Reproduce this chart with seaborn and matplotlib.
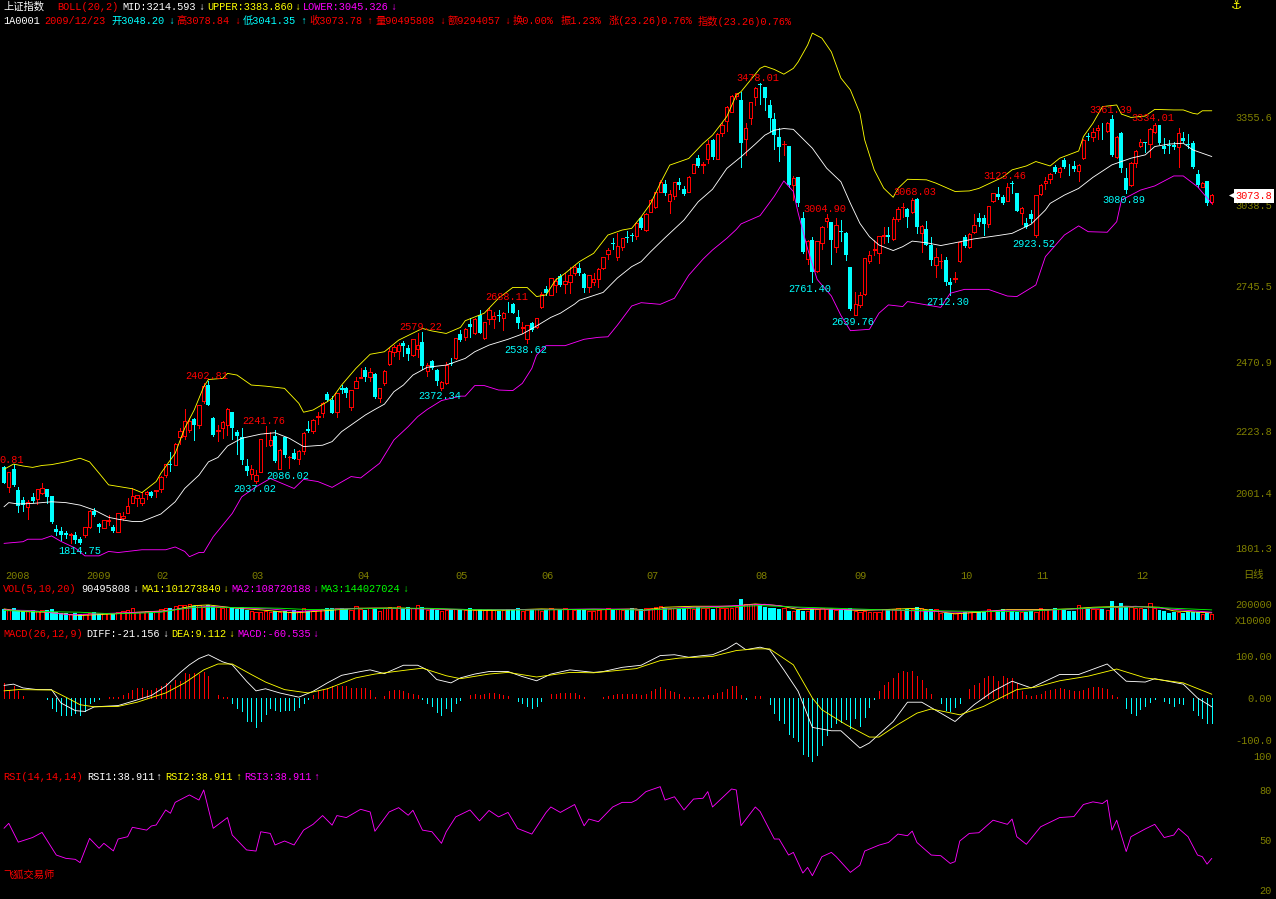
import matplotlib
matplotlib.use("Agg")
import matplotlib.pyplot as plt
import numpy as np
import pandas as pd
import seaborn as sns

open_px = [
    2094,2020,2085,2010,1974,1948,1984,1979,1998,2013,
    1989,1870,1861,1854,1848,1848,1835,1847,1878,1934,
    1888,1874,1898,1878,1860,1910,1928,1965,1980,1962,
    1996,2002,2008,2013,2065,2104,2100,2200,2205,2227,
    2265,2245,2332,2389,2269,2224,2233,2245,2293,2221,
    2200,2097,2068,2044,2076,2215,2172,2205,2088,2200,
    2128,2145,2121,2152,2229,2222,2272,2287,2355,2335,
    2293,2377,2377,2311,2380,2416,2443,2417,2430,2343,
    2395,2464,2509,2513,2539,2521,2497,2519,2545,2441,
    2477,2443,2380,2395,2467,2485,2573,2561,2609,2575,
    2642,2557,2627,2628,2642,2632,2675,2680,2633,2594,
    2554,2614,2597,2669,2734,2714,2750,2782,2752,2762,
    2792,2810,2788,2741,2762,2771,2812,2860,2900,2849,
    2885,2924,2930,2928,2990,2948,3014,3030,3086,3114,
    3054,3071,3120,3096,3086,3155,3209,3182,3203,3272,
    3205,3297,3342,3375,3431,3417,3276,3351,3429,3474,
    3462,3399,3348,3282,3258,3251,3110,3138,2990,2843,
    2912,2800,2902,2980,2976,2888,2946,2936,2816,2642,
    2678,2717,2835,2876,2864,2926,2930,2916,2987,3030,
    3024,3014,3060,2936,2950,2894,2823,2835,2840,2762,
    2771,2836,2924,2886,2942,2993,2990,2969,3054,3077,
    3068,3054,3116,3082,3011,2975,3006,2930,3078,3116,
    3131,3174,3158,3201,3177,3179,3162,3207,3287,3282,
    3309,3306,3306,3347,3213,3299,3134,3110,3189,3251,
    3265,3257,3302,3327,3251,3255,3255,3246,3281,3258,
    3263,3149,3104,3125,3048]
close_px = [
    2037,2075,2028,1953,1956,1968,1972,2013,2016,1984,
    1894,1860,1848,1848,1852,1830,1820,1876,1934,1920,
    1876,1902,1904,1862,1926,1918,1952,1989,1992,1983,
    2004,1989,2010,2058,2104,2099,2178,2223,2260,2260,
    2245,2317,2385,2317,2209,2227,2257,2301,2233,2205,
    2118,2080,2088,2064,2194,2217,2191,2116,2154,2135,
    2130,2124,2152,2217,2222,2263,2277,2323,2335,2289,
    2359,2371,2359,2371,2404,2418,2419,2435,2345,2377,
    2441,2512,2525,2533,2530,2500,2554,2533,2458,2461,
    2449,2405,2400,2461,2465,2557,2551,2590,2597,2627,
    2578,2615,2660,2638,2639,2648,2673,2650,2612,2597,
    2606,2588,2630,2717,2720,2774,2764,2750,2764,2786,
    2816,2792,2740,2786,2770,2806,2849,2876,2896,2890,
    2918,2920,2928,2972,2954,3006,3056,3084,3122,3083,
    3078,3120,3110,3078,3140,3185,3179,3186,3260,3212,
    3294,3327,3393,3431,3441,3263,3317,3408,3459,3470,
    3423,3353,3291,3248,3260,3110,3134,3044,2869,2908,
    2798,2908,2958,2990,2912,2966,2942,2858,2663,2681,
    2714,2846,2858,2878,2926,2929,2922,2987,3024,3032,
    2996,3056,2960,2963,2895,2840,2850,2838,2762,2750,
    2774,2906,2892,2934,2966,2976,2970,3035,3080,3066,
    3044,3104,3114,3018,3028,2958,2987,3073,3110,3126,
    3150,3158,3170,3174,3174,3167,3183,3273,3282,3303,
    3315,3304,3333,3219,3285,3171,3092,3191,3233,3264,
    3263,3314,3327,3261,3239,3252,3246,3297,3270,3256,
    3174,3110,3119,3044,3074]
high_px = [
    2097,2075,2104,2021,1986,1974,2001,2013,2037,2015,
    1989,1884,1878,1862,1854,1858,1842,1878,1938,1945,
    1890,1904,1920,1885,1926,1932,1980,2016,1992,2003,
    2007,2007,2010,2061,2104,2147,2181,2233,2301,2269,
    2269,2317,2395,2403,2275,2245,2259,2307,2293,2227,
    2233,2121,2100,2082,2194,2242,2221,2227,2157,2203,
    2133,2160,2154,2221,2259,2265,2293,2328,2365,2349,
    2359,2389,2383,2371,2419,2449,2453,2449,2431,2377,
    2443,2521,2533,2539,2549,2533,2554,2575,2579,2470,
    2479,2446,2405,2473,2485,2560,2587,2596,2630,2630,
    2660,2615,2666,2654,2660,2654,2687,2684,2660,2618,
    2606,2618,2630,2726,2746,2774,2774,2789,2792,2816,
    2822,2828,2792,2786,2792,2810,2852,2884,2920,2936,
    2918,2946,2936,2978,2996,3008,3060,3086,3128,3128,
    3092,3120,3134,3108,3143,3185,3218,3194,3272,3278,
    3297,3333,3395,3435,3443,3447,3333,3411,3465,3478,
    3465,3417,3369,3315,3269,3251,3144,3140,3014,2912,
    2924,2908,2964,3005,2976,2990,2984,2942,2816,2726,
    2726,2848,2872,2912,2926,2960,2958,2996,3032,3047,
    3026,3062,3062,2966,2982,2924,2882,2860,2852,2774,
    2798,2906,2930,2936,3006,3008,3002,3035,3083,3102,
    3074,3119,3123,3082,3030,2990,3020,3073,3113,3140,
    3152,3183,3174,3207,3186,3198,3186,3275,3299,3315,
    3327,3333,3339,3361,3287,3303,3171,3193,3237,3275,
    3267,3315,3334,3327,3279,3273,3267,3315,3303,3294,
    3270,3164,3122,3125,3079]
low_px = [
    2034,2003,2025,1932,1936,1907,1968,1960,1996,1965,
    1890,1848,1830,1837,1820,1820,1815,1842,1872,1918,
    1859,1872,1884,1859,1859,1902,1926,1962,1952,1955,
    1977,1986,1984,2004,2058,2080,2099,2178,2193,2221,
    2191,2233,2323,2317,2205,2188,2197,2209,2193,2140,
    2106,2064,2049,2037,2076,2169,2169,2112,2086,2128,
    2090,2121,2104,2142,2221,2217,2248,2272,2332,2287,
    2272,2359,2347,2299,2377,2413,2404,2405,2344,2329,
    2389,2461,2494,2483,2494,2479,2494,2491,2447,2422,
    2446,2389,2372,2393,2461,2483,2549,2551,2561,2573,
    2575,2555,2609,2594,2620,2588,2654,2648,2594,2575,
    2539,2584,2593,2667,2714,2714,2726,2746,2720,2720,
    2786,2786,2723,2726,2750,2744,2807,2843,2878,2840,
    2876,2906,2908,2916,2950,2946,3012,3027,3084,3074,
    3010,3059,3096,3074,3084,3152,3174,3155,3191,3205,
    3204,3288,3306,3372,3419,3174,3218,3330,3399,3402,
    3381,3305,3239,3198,3218,3104,3056,3036,2866,2825,
    2761,2798,2879,2960,2824,2870,2910,2840,2660,2640,
    2672,2714,2828,2858,2828,2900,2906,2912,2982,2994,
    2958,3011,2936,2870,2893,2822,2780,2810,2750,2712,
    2762,2834,2888,2883,2938,2964,2930,2960,3050,3060,
    3042,3052,3083,3017,2970,2954,2978,2924,3074,3095,
    3116,3155,3138,3170,3146,3162,3126,3203,3273,3270,
    3275,3275,3303,3215,3209,3159,3081,3108,3174,3246,
    3229,3213,3297,3258,3225,3225,3241,3177,3267,3243,
    3171,3104,3102,3038,3041]

# volume in millions of shares
volume = [
    165,150,170,150,125,130,140,125,150,140,
    160,110,105,100,90,95,85,90,100,110,
    90,95,100,85,110,125,150,170,110,120,
    130,110,130,165,170,180,210,225,215,235,
    205,215,190,225,200,185,175,195,180,165,
    190,150,125,110,120,125,115,130,110,125,
    120,140,130,170,135,130,150,160,180,170,
    175,170,160,150,210,160,150,175,165,125,
    170,195,180,200,165,190,170,220,195,150,
    155,150,130,145,140,160,150,145,170,150,
    160,150,165,145,135,150,160,165,170,130,
    150,165,155,130,140,170,165,155,170,165,
    145,160,150,130,125,150,165,170,155,165,
    150,145,170,150,165,175,170,185,210,170,
    160,175,165,170,180,165,185,170,175,165,
    190,175,180,170,185,310,240,230,240,225,
    185,170,175,165,170,135,130,140,135,125,
    160,165,170,155,160,150,165,160,170,125,
    120,125,115,120,120,165,155,160,170,150,
    165,155,195,170,150,165,160,95,100,95,
    95,100,120,115,125,120,115,160,125,150,
    160,135,125,120,115,120,125,120,175,150,
    155,175,160,145,135,130,220,170,160,155,
    165,160,150,285,185,250,190,185,180,175,
    165,250,175,150,135,95,110,115,105,110,
    110,115,90,100,90]

macd_bar = [
    36,20,29,16,4,-1,-1,1,-1,-2,
    -24,-30,-40,-41,-41,-36,-41,-32,-12,-6,
    -2,1,2,2,2,8,12,20,24,24,
    20,20,24,28,36,32,44,40,60,56,
    60,56,62,52,1,8,2,2,-12,-24,
    -30,-55,-55,-68,-54,-38,-24,-28,-30,-28,
    -28,-28,-22,-12,-2,8,16,20,24,28,
    28,28,28,24,25,24,24,20,2,-1,
    4,16,20,20,17,12,10,8,-2,-12,
    -20,-33,-41,-24,-32,-12,-4,0,6,10,
    8,10,12,12,10,6,4,0,-6,-12,
    -20,-24,-20,-8,0,10,10,11,11,13,
    13,8,2,0,-1,-1,3,4,8,10,
    10,10,10,10,
    8,10,16,22,27,22,17,14,10,2,
    2,3,3,2,8,6,12,14,22,28,
    29,6,-2,-1,4,4,1,-14,-36,-52,
    -60,-86,-93,-103,-133,-139,-151,-135,-113,-87,
    -70,-60,-56,-49,-71,-48,-67,-46,-22,-2,
    16,30,38,48,60,65,62,65,52,44,
    25,10,-1,-12,-28,-32,-22,-12,-1,22,
    30,36,48,52,53,40,52,48,48,36,
    16,8,4,6,10,16,20,22,24,22,
    20,16,16,20,25,27,27,24,22,6,
    2,-1,-24,-36,-40,-26,-18,-10,-3,-1,
    -8,-12,-18,-12,-14,-1,-28,-40,-48,-60,
    -60]

# lines read at their turning points as (day, value)
boll_upper = [
    (0,2085),(2,2104),(4,2097),(6,2092),(8,2099),(10,2102),(13,2112),(16,2125),(18,2112),(20,2071),
    (22,2029),(27,2015),(29,2001),(32,2041),(33,2071),(36,2143),(38,2233),(40,2299),(42,2383),(43,2409),
    (46,2413),(47,2431),(49,2425),(52,2389),(55,2385),(59,2377),(60,2359),(62,2323),(63,2291),(65,2299),
    (68,2329),(69,2341),(71,2389),(74,2449),(77,2500),(80,2509),(83,2551),(88,2593),(90,2584),(93,2575),
    (96,2597),(97,2621),(101,2648),(104,2702),(107,2741),(110,2741),(112,2708),(114,2714),(116,2768),(118,2792),
    (121,2834),(124,2864),(127,2930),(130,2948),(132,2954),(134,2996),(136,3044),(138,3116),(140,3182),(144,3206),
    (147,3260),(149,3290),(152,3357),(154,3435),(155,3447),(157,3489),(159,3531),(160,3539),(162,3527),(164,3510),
    (166,3531),(167,3554),(169,3615),(170,3658),(172,3640),(174,3590),(176,3496),(178,3453),(180,3369),(181,3273),
    (183,3165),(185,3099),(187,3066),(188,3098),(190,3131),(194,3129),(196,3117),(200,3087),(203,3089),(205,3098),
    (208,3122),(210,3138),(212,3165),(215,3179),(217,3195),(220,3179),(222,3207),(226,3233),(227,3285),(229,3333),
    (231,3393),(234,3399),(235,3366),(237,3354),(240,3359),(242,3383),(246,3381),(248,3381),(250,3369),(251,3366),
    (252,3378),(254,3378)]
boll_mid = [
    (0,1950),(1,1965),(3,1960),(6,1962),(10,1968),(13,1965),(16,1956),(19,1938),(22,1912),(24,1905),
    (27,1897),(29,1897),(33,1924),(36,1968),(38,2016),(41,2064),(43,2112),(45,2128),(47,2169),(50,2197),
    (54,2212),(57,2217),(60,2197),(63,2167),(67,2172),(69,2185),(71,2221),(73,2245),(76,2281),(78,2301),
    (80,2320),(82,2365),(84,2389),(86,2425),(89,2453),(93,2461),(97,2485),(99,2509),(102,2533),(106,2554),
    (109,2573),(112,2602),(115,2633),(117,2648),(120,2681),(121,2695),(126,2723),(129,2775),(132,2816),(134,2834),
    (136,2870),(139,2920),(143,2984),(146,3050),(149,3095),(152,3170),(155,3212),(158,3258),(160,3290),(162,3308),
    (164,3314),(166,3311),(170,3243),(173,3171),(176,3122),(178,3044),(180,2972),(182,2924),(184,2894),(187,2874),
    (189,2888),(191,2908),(194,2902),(197,2892),(200,2902),(204,2916),(209,2928),(212,2936),(216,2969),(219,3020),
    (220,3044),(223,3074),(226,3098),(229,3138),(233,3183),(237,3207),(240,3219),(242,3249),(245,3258),(248,3261),
    (250,3237),(254,3213)]
boll_lower = [
    (0,1818),(4,1824),(5,1833),(8,1833),(10,1845),(12,1825),(15,1801),(17,1773),(20,1773),(22,1789),
    (24,1785),(29,1795),(34,1795),(36,1805),(38,1789),(39,1770),(41,1785),(42,1785),(44,1842),(48,1926),
    (50,1986),(53,2022),(56,2052),(61,2016),(63,2049),(66,2041),(69,2020),(73,2059),(75,2054),(79,2107),
    (82,2191),(85,2239),(87,2275),(89,2301),(92,2333),(96,2349),(97,2349),(99,2387),(101,2387),(104,2371),
    (107,2369),(109,2395),(111,2449),(112,2497),(114,2531),(118,2531),(122,2554),(125,2561),(127,2563),(129,2605),
    (132,2674),(134,2686),(138,2680),(141,2702),(144,2785),(147,2843),(149,2876),(152,2918),(154,2950),(155,2970),
    (159,3000),(162,3070),(164,3125),(166,3087),(167,3010),(169,2880),(171,2770),(174,2710),(176,2640),(178,2585),
    (182,2590),(184,2648),(186,2678),(189,2672),(190,2690),(194,2678),(197,2669),(199,2720),(202,2734),(207,2734),
    (211,2710),(213,2708),(217,2750),(219,2852),(223,2930),(226,2963),(228,2942),(232,2940),(234,2978),(235,3056),
    (239,3092),(242,3107),(246,3143),(248,3143),(251,3104),(254,3044)]

vol_ma1 = [
    (0,160),(4,120),(9,110),(16,60),(23,85),(28,110),(35,135),(40,210),(43,220),(49,170),
    (54,145),(61,100),(68,135),(74,170),(82,175),(90,160),(102,135),(113,160),(124,145),(133,160),
    (134,135),(139,185),(145,200),(153,200),(158,235),(163,210),(167,150),(174,160),(180,135),(192,170),
    (200,85),(205,110),(211,150),(219,150),(224,160),(229,185),(236,200),(243,185),(246,130),(254,100)]
vol_ma2 = [
    (0,145),(6,135),(14,70),(19,85),(25,100),(33,120),(37,160),(43,200),(49,175),(56,160),
    (62,120),(70,160),(78,170),(88,160),(100,150),(114,150),(124,160),(133,155),(134,135),(142,175),
    (151,200),(160,230),(168,170),(176,150),(185,145),(201,110),(211,140),(219,140),(229,170),(238,200),
    (245,160),(254,109)]
vol_ma3 = [
    (0,135),(8,120),(16,110),(23,85),(28,95),(33,110),(36,145),(40,185),(44,185),(51,180),
    (58,170),(64,150),(73,160),(81,170),(89,170),(98,150),(106,145),(115,145),(124,155),(133,145),
    (134,140),(142,165),(151,185),(159,210),(168,185),(175,170),(185,145),(198,130),(206,120),(215,125),
    (223,155),(232,185),(240,190),(246,170),(254,145)]

macd_diff = [
    (0,30),(2,33),(4,24),(7,20),(10,20),(12,-12),(15,-30),(17,-32),(19,-21),(24,-18),
    (27,-8),(31,6),(34,28),(37,60),(39,79),(41,94),(43,103),(46,86),(48,79),(51,40),
    (53,17),(55,22),(58,12),(62,2),(65,16),(68,36),(71,54),(75,63),(77,67),(80,58),
    (84,78),(87,78),(89,67),(91,44),(94,36),(96,48),(99,57),(102,63),(106,63),(109,51),
    (112,41),(115,57),(119,67),(124,61),(126,63),(130,73),(134,78),(138,101),(141,103),(144,97),
    (147,101),(149,103),(152,117),(154,131),(156,115),(159,121),(161,115),(164,67),(167,16),(170,-70),
    (174,-78),(176,-78),(180,-119),(182,-107),(187,-56),(190,-10),(193,-10),(197,-36),(200,-56),(204,-16),
    (208,16),(212,40),(216,24),(222,56),(226,56),(232,81),(236,40),(240,38),(242,46),(248,33),
    (251,0),(254,-21)]
macd_dea = [
    (0,17),(3,20),(10,19),(13,2),(16,-16),(19,-21),(24,-20),(28,-10),(34,12),(38,36),
    (42,67),(45,81),(48,81),(52,56),(55,38),(59,20),(64,12),(68,22),(74,48),(78,57),
    (85,67),(88,71),(93,53),(96,46),(102,57),(106,61),(112,50),(119,61),(124,60),(133,70),
    (134,74),(138,89),(142,95),(149,99),(154,113),(158,117),(161,117),(166,79),(170,0),(172,-28),
    (177,-63),(182,-93),(184,-93),(188,-63),(192,-36),(195,-26),(201,-40),(206,-20),(213,20),(217,26),
    (222,41),(228,52),(234,69),(240,48),(248,36),(254,9)]

rsi_line = [
    (0,57.1),(1,60.1),(3,48.7),(6,51.5),(8,54.6),(9,50),(11,40.9),(13,38.9),(15,38.3),(16,36.3),
    (18,51),(20,45),(21,48),(23,43.4),(24,50.6),(26,52),(27,57.7),(30,56),(31,58.5),(32,59.1),
    (34,68.2),(35,66.2),(36,72.8),(39,77.3),(41,74.2),(42,80.3),(44,57.1),(47,63.6),(48,53),(51,44),
    (53,43.3),(54,55),(56,54),(57,47),(59,49.4),(61,47),(63,56),(65,59.5),(67,64.8),(69,59),
    (70,64.8),(72,63.6),(75,68.6),(77,67),(78,55.3),(81,67),(83,69.6),(85,65),(86,68),(88,56),
    (90,55),(92,48),(93,55),(95,64),(98,68.2),(100,61.6),(102,67.9),(104,64),(106,66.7),(108,57),
    (111,53.6),(114,66.7),(115,70),(117,66.7),(120,71.5),(122,58.6),(123,62.7),(125,61.1),(128,70),(130,72.8),
    (132,72.8),(133,74.2),(135,79.3),(138,82.3),(139,74.2),(141,76.2),(143,68.2),(145,74.8),(147,75.3),(148,79.3),
    (149,70),(153,80.9),(154,80.3),(155,58.7),(157,66.2),(158,70),(159,67.3),(162,50.6),(163,50.6),(165,40.9),
    (166,42.5),(168,30),(169,33.4),(170,28.4),(172,39.9),(174,42.5),(175,39.9),(178,30.4),(180,34.8),(181,43.3),
    (184,46.9),(186,48.5),(188,53.6),(190,52.6),(191,55.4),(192,48.5),(195,40.9),(197,40.5),(199,35.8),(200,36.9),
    (201,49.4),(203,54),(205,54.4),(208,62),(211,59.5),(212,62.7),(213,52),(215,47.4),(218,58),(222,63.6),
    (225,64.2),(227,71.5),(229,73.1),(231,72.1),(232,74.2),(233,56),(234,62),(236,43),(237,52),(240,56.7),
    (242,59.5),(244,51.5),(246,53),(247,57),(249,52),(251,40.9),(252,39.9),(253,35.4),(254,38.9)]

month_pos = [2.9,19.8,33.4,53.4,75.5,96.3,114.4,136.3,159.4,180.2,202.3,218.3,239.3]
month_lab = ['2008','2009','02','03','04','05','06','07','08','09','10','11','12']
price_ticks = [3355.6,3038.5,2745.5,2470.9,2223.8,2001.4,1801.3]

# extreme labels: text, colour, centre x, centre y
extremes = [
    ('0.81','red',12,460),('1814.75','cyan',80,551),('2402.81','red',207,376),('2241.76','red',264,421),
    ('2037.02','cyan',255,489),('2086.02','cyan',288,476),('2372.34','cyan',440,396),('2579.22','red',421,327),
    ('2538.62','cyan',526,350),('2688.11','red',507,297),('3478.01','red',758,78),('3004.90','red',825,209),
    ('2761.40','cyan',810,289),('2639.76','cyan',853,322),('3068.03','red',915,192),('3123.46','red',1005,176),
    ('2712.30','cyan',948,302),('2923.52','cyan',1034,244),('3361.39','red',1111,110),('3334.01','red',1153,118),
    ('3080.89','cyan',1124,200)]

# header pieces: text, colour, left x
line_top = [
    ('上证指数','white',3),('BOLL(20,2)','red',57),('MID:3214.593','white',122),('↓','white',198),
    ('UPPER:3383.860','yellow',207),('↓','yellow',294),('LOWER:3045.326','magenta',303),('↓','magenta',390)]
line_quote = [
    ('1A0001','white',3),('2009/12/23','red',44),('开3048.20','cyan',111),('↓','cyan',168),
    ('高3078.84','red',176),('↓','red',234),('低3041.35','cyan',243),('↑','cyan',300),
    ('收3073.78','red',309),('↑','red',366),('量90495808','red',375),('↓','red',439),
    ('额9294057','red',448),('↓','red',504),('换0.00%','red',513),('振1.23%','red',561),
    ('涨(23.26)0.76%','red',609),('指数(23.26)0.76%','red',698)]
line_vol = [
    ('VOL(5,10,20)','red',3),('90495808','white',81),('↓','white',132),('MA1:101273840','yellow',141),
    ('↓','yellow',222),('MA2:108720188','magenta',231),('↓','magenta',312),('MA3:144027024','lime',320),('↓','lime',402)]
line_macd = [
    ('MACD(26,12,9)','red',3),('DIFF:-21.156','white',86),('↓','white',162),('DEA:9.112','yellow',171),
    ('↓','yellow',228),('MACD:-60.535','magenta',237),('↓','magenta',312)]
line_rsi = [
    ('RSI(14,14,14)','red',3),('RSI1:38.911','white',87),('↑','white',155),('RSI2:38.911','yellow',165),
    ('↑','yellow',235),('RSI3:38.911','magenta',244),('↑','magenta',313)]

W, H = 1276, 899
OLIVE = '#808000'
FONT = ['Liberation Mono', 'Noto Sans CJK SC', 'DejaVu Sans']
TXT = 7.4

sns.set_theme(style='dark', rc={'axes.facecolor': 'black', 'figure.facecolor': 'black',
                                'axes.grid': False})
plt.rcParams['font.family'] = FONT
plt.rcParams['font.size'] = TXT

fig = plt.figure(figsize=(W / 100, H / 100), dpi=100)
LW = 0.7


def panel(top, bottom, ymax, ymin):
    ax = fig.add_axes([0, 1 - bottom / H, 1, (bottom - top) / H])
    ax.set_xlim(-0.841, 267.5)
    ax.set_ylim(ymin, ymax)
    sns.despine(ax=ax, left=True, bottom=True)
    ax.spines['right'].set_visible(False)
    ax.tick_params(axis='x', length=0, labelbottom=False, labelsize=TXT)
    ax.tick_params(axis='y', length=0, labelleft=False, labelright=True, right=False,
                   left=False, pad=-3, labelcolor=OLIVE, labelsize=TXT)
    return ax


def set_right_ticks(ax, vals, labels):
    ax.set_yticks(vals)
    ax.set_yticklabels(labels)
    for t in ax.get_yticklabels():
        t.set_ha('right')


def knot_line(ax, knots, color):
    d = pd.DataFrame(knots, columns=['day', 'value'])
    sns.lineplot(data=d, x='day', y='value', ax=ax, color=color, estimator=None, legend=False, zorder=5)
    # seaborn keeps its own default width, so thin the new line afterwards
    line = ax.get_lines()[-1]
    line.set_linewidth(0.62)
    line.set_antialiased(True)
    ax.set_xlabel('')
    ax.set_ylabel('')


def put_text(x, y, s, color, ha='left', **kw):
    fig.text(x / W, 1 - y / H, s, color=color, ha=ha, va='center', **kw)


df = pd.DataFrame({'open': open_px, 'high': high_px, 'low': low_px, 'close': close_px,
                   'volume': volume, 'macd': macd_bar})
df['day'] = np.arange(len(df))
df['up'] = df['close'] >= df['open']
up = df[df['up']]
down = df[~df['up']]
RED_W = 0.7
CYAN_W = 0.84

# main panel
ax = panel(30, 570, 3669.3, 1722)
ax.vlines(up['day'], up['low'], up['high'], color='red', lw=LW, antialiased=False, zorder=2)
ax.vlines(down['day'], down['low'], down['high'], color='cyan', lw=LW, antialiased=False, zorder=2)
ax.bar(up['day'], up['close'] - up['open'], bottom=up['open'], width=RED_W, facecolor='black',
       edgecolor='red', lw=LW, antialiased=False, zorder=3)
ax.bar(down['day'], down['open'] - down['close'], bottom=down['close'], width=CYAN_W,
       color='cyan', lw=0, antialiased=False, zorder=3)
knot_line(ax, boll_upper, 'yellow')
knot_line(ax, boll_mid, 'white')
knot_line(ax, boll_lower, 'magenta')
set_right_ticks(ax, price_ticks, [str(p) for p in price_ticks])
ax.set_xticks(month_pos)
ax.set_xticklabels(month_lab)
ax.tick_params(axis='x', labelbottom=True, labelcolor=OLIVE, pad=0.5)
ax.scatter([258.2], [close_px[-1]], marker='<', s=26, color='white', lw=0, zorder=6, clip_on=False)

# volume panel
ax_v = panel(595, 619.5, 370, 0)
ax_v.bar(up['day'], up['volume'], width=RED_W, facecolor='black', edgecolor='red', lw=LW,
         antialiased=False, zorder=2)
ax_v.bar(down['day'], down['volume'], width=CYAN_W, color='cyan', lw=0, antialiased=False, zorder=2)
knot_line(ax_v, vol_ma1, 'yellow')
knot_line(ax_v, vol_ma2, 'magenta')
knot_line(ax_v, vol_ma3, 'lime')
set_right_ticks(ax_v, [234, 0], ['200000', 'X10000'])

# macd panel
ax_m = panel(630, 765, 161.9, -159.5)
pos = df[df['macd'] >= 0]
neg = df[df['macd'] < 0]
ax_m.vlines(pos['day'], 0, pos['macd'], color='red', lw=LW, antialiased=False, zorder=2)
ax_m.vlines(neg['day'], 0, neg['macd'], color='cyan', lw=LW, antialiased=False, zorder=2)
knot_line(ax_m, macd_diff, 'white')
knot_line(ax_m, macd_dea, 'yellow')
set_right_ticks(ax_m, [100, 0, -100], ['100.00', '0.00', '-100.0'])

# rsi panel
ax_r = panel(770, 895, 92.4, 16.7)
knot_line(ax_r, rsi_line, 'magenta')
set_right_ticks(ax_r, [80, 50, 20], ['80', '50', '20'])

# texts
for y, pieces in [(6.5, line_top), (21, line_quote), (589, line_vol), (634, line_macd), (777, line_rsi)]:
    for s, c, x in pieces:
        put_text(x, y, s, c)
for s, c, x, y in extremes:
    put_text(x, y, s, c, ha='center', zorder=8)
put_text(3, 875, '飞狐交易师', 'red')
put_text(1272, 757, '100', OLIVE, ha='right')
put_text(1253, 575, '日线', OLIVE, ha='center')
put_text(1236, 6, '⚓', 'yellow', ha='center', fontsize=9)
put_text(1272, 196, '3073.8', 'red', ha='right', zorder=9,
         bbox=dict(facecolor='white', edgecolor='none', pad=1.2))

fig.savefig('out.png', dpi=100, facecolor='black')
